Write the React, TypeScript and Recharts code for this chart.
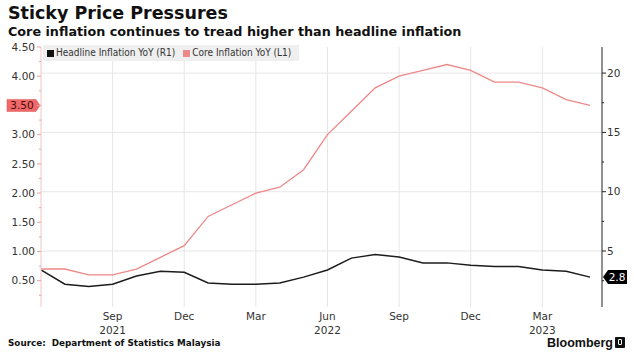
import React from 'react';
import { LineChart, Line, XAxis, YAxis, ReferenceLine, ReferenceDot, Legend } from 'recharts';

// Months Jun 2021 .. May 2023
const monthLabels = [
  'Jun 2021', 'Jul 2021', 'Aug 2021', 'Sep 2021', 'Oct 2021', 'Nov 2021', 'Dec 2021',
  'Jan 2022', 'Feb 2022', 'Mar 2022', 'Apr 2022', 'May 2022', 'Jun 2022', 'Jul 2022',
  'Aug 2022', 'Sep 2022', 'Oct 2022', 'Nov 2022', 'Dec 2022', 'Jan 2023', 'Feb 2023',
  'Mar 2023', 'Apr 2023', 'May 2023',
];
const headline = [3.4, 2.2, 2.0, 2.2, 2.9, 3.3, 3.2, 2.3, 2.2, 2.2, 2.3, 2.8, 3.4, 4.4, 4.7, 4.5, 4.0, 4.0, 3.8, 3.7, 3.7, 3.4, 3.3, 2.8];
const core = [0.7, 0.7, 0.6, 0.6, 0.7, 0.9, 1.1, 1.6, 1.8, 2.0, 2.1, 2.4, 3.0, 3.4, 3.8, 4.0, 4.1, 4.2, 4.1, 3.9, 3.9, 3.8, 3.6, 3.5];

const xTickIdx = [3, 6, 9, 12, 15, 18, 21];
const xTickMonth = ['Sep', 'Dec', 'Mar', 'Jun', 'Sep', 'Dec', 'Mar'];
const xTickYear = ['2021', '', '', '2022', '', '', '2023'];
const xDomain = [0, 23.5];

const leftTicks = [0.25, 0.5, 0.75, 1, 1.25, 1.5, 1.75, 2, 2.25, 2.5, 2.75, 3, 3.25, 3.5, 3.75, 4, 4.25, 4.5];
const leftDomain = [0.05, 4.5];
const rightTicks = [2.5, 5, 7.5, 10, 12.5, 15, 17.5, 20];
const rightGrid = [5, 10, 15, 20];
const rightDomain = [0.28, 22.2];

const data = monthLabels.map((m, i) => ({ i, month: m, headline: headline[i], core: core[i] }));
const lastCore = core[core.length - 1];
const lastHeadline = headline[headline.length - 1];

const TICK_FONT = "'DejaVu Sans', sans-serif";
const NARROW_FONT = "'Liberation Sans Narrow', 'DejaVu Sans Condensed', 'Arial Narrow', sans-serif";
const RED = '#ed8888';

const LeftTick = (props: any) => {
  const { x, y, payload } = props;
  const v = payload.value;
  const major = Math.abs(v * 2 - Math.round(v * 2)) < 1e-6;
  return (
    <g>
      <line x1={x - (major ? 4 : 2)} x2={x} y1={y} y2={y} stroke="#e8a0a0" strokeWidth={1} />
      {major && v !== lastCore && (
        <text x={x - 6} y={y} dy="0.36em" textAnchor="end" fontFamily={TICK_FONT} fontSize={10.5} fill="#333">
          {v.toFixed(2)}
        </text>
      )}
    </g>
  );
};

const RightTick = (props: any) => {
  const { x, y, payload } = props;
  const v = payload.value;
  const major = v % 5 === 0;
  return (
    <g>
      <line x1={x} x2={x + (major ? 4 : 2)} y1={y} y2={y} stroke="#222" strokeWidth={1} />
      {major && (
        <text x={x + 5} y={y} dy="0.36em" textAnchor="start" fontFamily={TICK_FONT} fontSize={10.5} fill="#333">
          {v}
        </text>
      )}
    </g>
  );
};

const XTick = (props: any) => {
  const { x, y, payload } = props;
  const k = xTickIdx.indexOf(payload.value);
  if (k < 0) return null;
  return (
    <g>
      <text x={x} y={y + 13} textAnchor="middle" fontFamily={TICK_FONT} fontSize={10.5} fill="#333">
        {xTickMonth[k]}
      </text>
      {xTickYear[k] && (
        <text x={x} y={y + 27} textAnchor="middle" fontFamily={TICK_FONT} fontSize={10.5} fill="#333">
          {xTickYear[k]}
        </text>
      )}
    </g>
  );
};

const LeftTag = (props: any) => {
  const { cx, cy } = props;
  const pts = [
    [cx - 34, cy - 6], [cx - 5, cy - 6], [cx - 1, cy], [cx - 5, cy + 6], [cx - 34, cy + 6],
  ].map((p) => p.join(',')).join(' ');
  return (
    <g>
      <polygon points={pts} fill="#f06868" stroke="#d85050" strokeWidth={0.5} />
      <text x={cx - 19} y={cy} dy="0.36em" textAnchor="middle" fontFamily={TICK_FONT} fontSize={10.5} fill="#4a0c0c">
        {lastCore.toFixed(2)}
      </text>
    </g>
  );
};

const RightTag = (props: any) => {
  const { cx, cy } = props;
  const pts = [
    [cx + 1, cy], [cx + 6, cy - 7], [cx + 25, cy - 7], [cx + 25, cy + 7], [cx + 6, cy + 7],
  ].map((p) => p.join(',')).join(' ');
  return (
    <g>
      <polygon points={pts} fill="#000" />
      <text x={cx + 15} y={cy} dy="0.36em" textAnchor="middle" fontFamily={TICK_FONT} fontSize={10.5} fill="#fff">
        {lastHeadline.toFixed(1)}
      </text>
    </g>
  );
};

const LegendBox = () => (
  <div
    style={{
      background: 'rgba(238,238,238,0.92)',
      padding: '2px 8px 2px 4px',
      fontFamily: NARROW_FONT,
      fontSize: 10,
      color: '#333',
      whiteSpace: 'nowrap',
      display: 'flex',
      alignItems: 'center',
      lineHeight: '12px',
    }}
  >
    <span style={{ display: 'inline-block', width: 7, height: 7, background: '#111', marginRight: 2 }} />
    <span>Headline Inflation YoY (R1)</span>
    <span style={{ display: 'inline-block', width: 7, height: 7, background: RED, marginLeft: 8, marginRight: 2 }} />
    <span>Core Inflation YoY (L1)</span>
  </div>
);

export default function App() {
  return (
    <div style={{ position: 'absolute', left: 0, top: 0, width: 634, height: 355, background: '#fff', overflow: 'hidden' }}>
      <div
        style={{
          position: 'absolute', left: 8, top: 3, fontFamily: TICK_FONT, fontWeight: 'bold',
          fontSize: 17.5, color: '#111', whiteSpace: 'nowrap', lineHeight: '20px',
        }}
      >
        Sticky Price Pressures
      </div>
      <div
        style={{
          position: 'absolute', left: 8, top: 24, fontFamily: TICK_FONT, fontWeight: 'bold',
          fontSize: 12.75, color: '#111', whiteSpace: 'nowrap', lineHeight: '16px',
        }}
      >
        Core inflation continues to tread higher than headline inflation
      </div>
      <div style={{ position: 'absolute', left: 0, top: 0 }}>
        <LineChart width={634} height={355} data={data} margin={{ top: 47, right: 0, bottom: 0, left: 0 }}>
          {rightGrid.map((v) => (
            <ReferenceLine key={'h' + v} yAxisId="right" y={v} stroke="#e6e6e6" strokeWidth={1} />
          ))}
          {xTickIdx.map((v) => (
            <ReferenceLine key={'v' + v} yAxisId="left" x={v} stroke="#e6e6e6" strokeWidth={1} />
          ))}
          <XAxis
            dataKey="i"
            type="number"
            domain={xDomain}
            ticks={xTickIdx}
            interval={0}
            height={48}
            axisLine={false}
            tickLine={false}
            tickSize={0}
            tickMargin={0}
            tick={<XTick />}
            allowDataOverflow
          />
          <YAxis
            yAxisId="left"
            orientation="left"
            width={41}
            domain={leftDomain}
            ticks={leftTicks}
            interval={0}
            allowDataOverflow
            axisLine={{ stroke: '#f0c4c4' }}
            tickLine={false}
            tickSize={0}
            tickMargin={0}
            tick={<LeftTick />}
          />
          <YAxis
            yAxisId="right"
            orientation="right"
            width={32}
            domain={rightDomain}
            ticks={rightTicks}
            interval={0}
            allowDataOverflow
            axisLine={{ stroke: '#222' }}
            tickLine={false}
            tickSize={0}
            tickMargin={0}
            tick={<RightTick />}
          />
          <Legend
            layout="horizontal"
            verticalAlign="middle"
            align="center"
            wrapperStyle={{ position: 'absolute', top: 45, left: 43, width: 'auto', height: 'auto' }}
            content={() => <LegendBox />}
          />
          <Line
            yAxisId="right"
            type="linear"
            dataKey="headline"
            stroke="#1c1c1c"
            strokeWidth={1.5}
            dot={false}
            isAnimationActive={false}
          />
          <Line
            yAxisId="left"
            type="linear"
            dataKey="core"
            stroke={RED}
            strokeWidth={1.3}
            dot={false}
            isAnimationActive={false}
          />
          <ReferenceDot yAxisId="left" x={xDomain[0]} y={lastCore} r={0} ifOverflow="visible" shape={(p: any) => <LeftTag {...p} />} />
          <ReferenceDot yAxisId="right" x={xDomain[1]} y={lastHeadline} r={0} ifOverflow="visible" shape={(p: any) => <RightTag {...p} />} />
        </LineChart>
      </div>
      <div
        style={{
          position: 'absolute', left: 8, top: 337, fontFamily: TICK_FONT, fontWeight: 'bold',
          fontSize: 8.8, color: '#111', whiteSpace: 'nowrap', lineHeight: '12px',
        }}
      >
        Source:&nbsp; Department of Statistics Malaysia
      </div>
      <div
        style={{
          position: 'absolute', right: 21, top: 337, fontFamily: "'Liberation Sans', sans-serif", fontWeight: 'bold',
          fontSize: 12.5, color: '#111', whiteSpace: 'nowrap', lineHeight: '13px',
        }}
      >
        Bloomberg
      </div>
      <div
        style={{
          position: 'absolute', left: 615, top: 337, width: 10, height: 11, background: '#111', borderRadius: 1,
        }}
      >
        <div style={{ position: 'absolute', left: 3, top: 2, width: 4, height: 6, border: '1px solid #fff', borderRadius: 1, boxSizing: 'border-box' }} />
      </div>
    </div>
  );
}
